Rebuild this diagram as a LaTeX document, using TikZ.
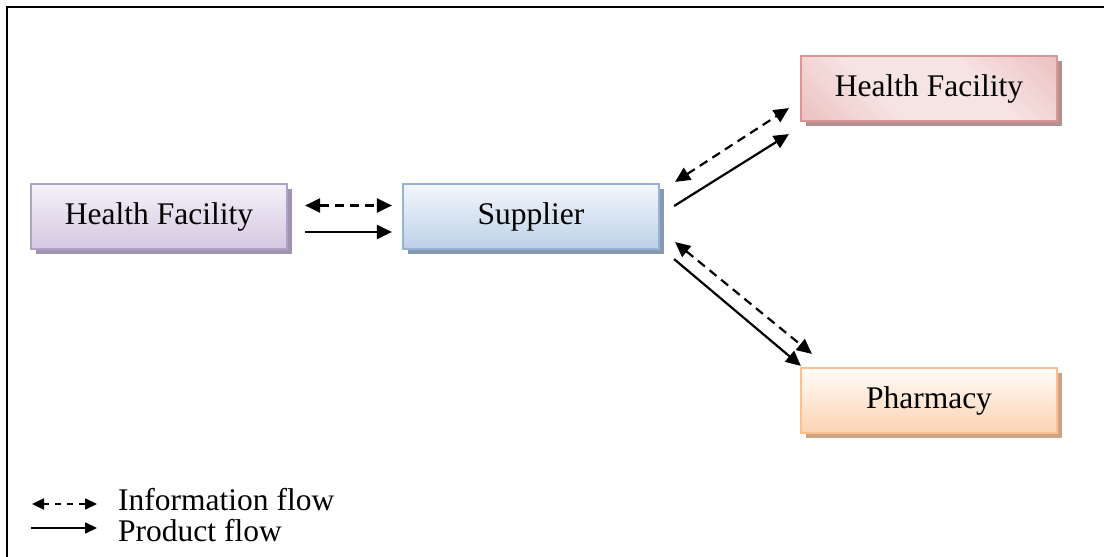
\documentclass[tikz,border=0pt]{standalone}
\usepackage{fontspec}
\setmainfont{Liberation Serif}
\usetikzlibrary{arrows.meta,calc,shadows}
\definecolor{puB}{HTML}{B2A1C7}
\definecolor{puT}{HTML}{F5F1F9}
\definecolor{puD}{HTML}{D3C8E0}
\definecolor{puS}{HTML}{A194AE}
\definecolor{blB}{HTML}{95B3D7}
\definecolor{blT}{HTML}{F3F7FB}
\definecolor{blD}{HTML}{BDD0E8}
\definecolor{blS}{HTML}{8799AF}
\definecolor{pkB}{HTML}{D99694}
\definecolor{pkd}{HTML}{E3AAA9}
\definecolor{pkl}{HTML}{F6E4E3}
\definecolor{pkS}{HTML}{B49191}
\definecolor{orB}{HTML}{FAC08F}
\definecolor{orT}{HTML}{FFFCF9}
\definecolor{orD}{HTML}{FBD3B2}
\definecolor{orS}{HTML}{CBA488}
\pgfdeclarehorizontalshading{pinkband}{100bp}{color(0bp)=(pkd); color(38bp)=(pkl); color(62bp)=(pkl); color(100bp)=(pkd)}
\begin{document}
\begin{tikzpicture}[x=1pt,y=1pt,
  every node/.style={font=\fontsize{31.5}{37}\selectfont},
  box/.style={rectangle, minimum width=256pt, minimum height=65pt, line width=2.2pt, inner sep=0pt},
  shad/.style={drop shadow={shadow xshift=4.5pt, shadow yshift=-5.5pt, fill=#1, opacity=1}},
  info/.style={line width=2.2pt, dash pattern=on 9pt off 6pt, {Triangle[length=15pt,width=14pt]}-{Triangle[length=15pt,width=14pt]}},
  prod/.style={line width=2.2pt, -{Triangle[length=15pt,width=14pt]}},
  infoleg/.style={line width=2.2pt, dash pattern=on 6pt off 6pt, {Triangle[length=12pt,width=11pt]}-{Triangle[length=12pt,width=11pt]}},
  prodleg/.style={line width=2.2pt, -{Triangle[length=12pt,width=11pt]}},
  legtext/.style={anchor=west, inner sep=0pt}]
\useasboundingbox (0,0) rectangle (1104,557);
\draw[line width=2.2pt] (7,0) -- (7,550) -- (1104,550);

\node[box, draw=puB, top color=puT, bottom color=puD, shad=puS] (hfl) at (159,340.5) {Health Facility};
\node[box, draw=blB, top color=blT, bottom color=blD, shad=blS] (sup) at (531,340.5) {Supplier};
\node[box, draw=pkB, shading=pinkband, shading angle=45, shad=pkS] (hfr) at (929,468.5) {Health Facility};
\node[box, draw=orB, top color=orT, bottom color=orD, shad=orS] (ph) at (929,156.5) {Pharmacy};

\draw[info] ($(hfl.east)+(17,11)$) -- ($(sup.west)+(-10,11)$);
\draw[prod] ($(hfl.east)+(17,-15.5)$) -- ($(sup.west)+(-10,-15.5)$);

\draw[info] ($(sup.north east)+(15,1)$) -- ($(hfr.south west)+(-11,14)$);
\draw[prod] ($(sup.east)+(14,10.5)$) -- ($(hfr.south west)+(-11,-12)$);

\draw[info] ($(sup.south east)+(15,8)$) -- ($(ph.north west)+(12,13)$);
\draw[prod] ($(sup.south east)+(14,-9)$) -- ($(ph.north west)+(1,1)$);

\node[legtext] (linfo) at (118,57) {Information flow};
\node[legtext] (lprod) at (118,26) {Product flow};
\coordinate (li) at (32,53);
\coordinate (lp) at (31,29);
\draw[infoleg] (li) -- ($(linfo.west)+(-21,-4)$);
\draw[prodleg] (lp) -- ($(lprod.west)+(-21,3)$);
\end{tikzpicture}
\end{document}
